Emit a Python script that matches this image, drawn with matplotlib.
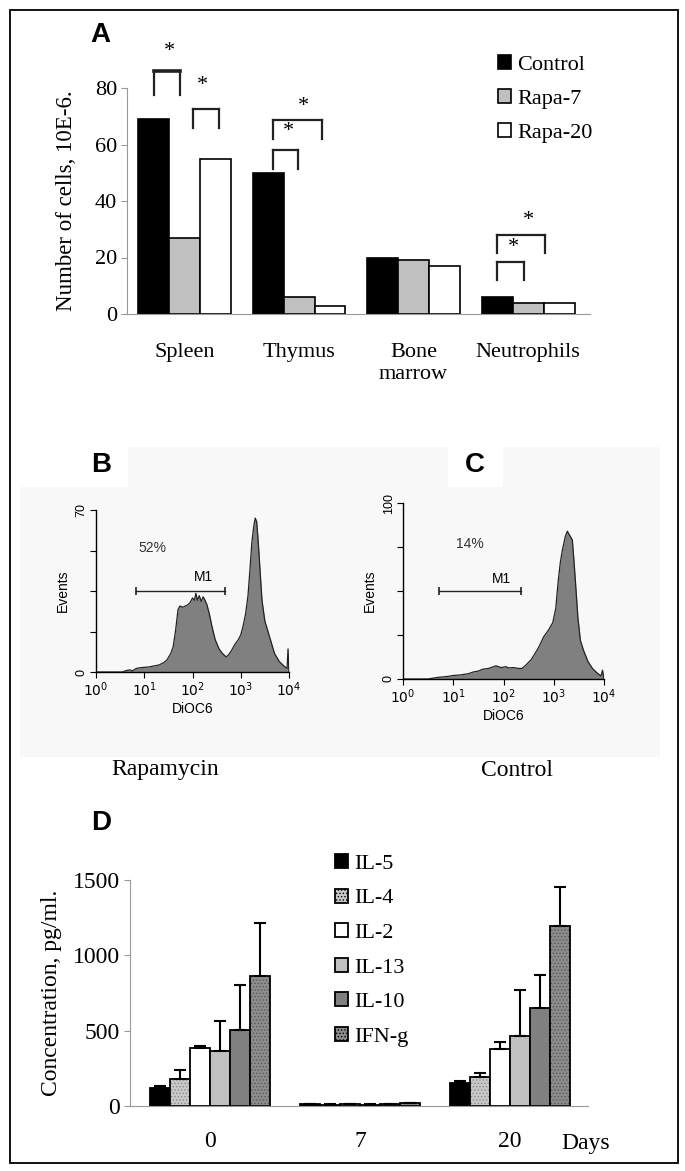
import numpy as np
import matplotlib
matplotlib.use("Agg")
from matplotlib import pyplot as plt
from matplotlib.patches import Rectangle
from matplotlib.ticker import LogLocator, NullFormatter

plt.rcParams['mathtext.fontset'] = 'custom'
plt.rcParams['mathtext.rm'] = 'Liberation Sans'
plt.rcParams['hatch.linewidth'] = 0.6

SERIF = 'Liberation Serif'
SANS = 'Liberation Sans'

# ---- panel A : cell numbers ----
organs = ["Spleen", "Thymus", "Bone\nmarrow", "Neutrophils"]
control = [69, 50, 20, 6]
rapa7 = [27, 6, 19, 4]
rapa20 = [55, 3, 17, 4]
a_ticks = [0, 20, 40, 60, 80]
# (organ, left, right, top, leg bottom, star x, star y, top line width)
brackets = [
    (0, -0.27, -0.04, 86, 77.5, -0.13, 93, 2.6),
    (0, 0.07, 0.30, 72.5, 66, 0.16, 81, 1.6),
    (1, -0.23, -0.01, 58, 51.5, -0.09, 64.5, 1.6),
    (1, -0.23, 0.20, 68.5, 62, 0.04, 73.5, 1.6),
    (3, -0.27, -0.035, 18.5, 12, -0.13, 23.5, 1.6),
    (3, -0.27, 0.15, 28, 21.5, 0.0, 33, 1.6),
]

# ---- panels B, C : DiOC6 histograms (log10 of channel, events) ----
b_logx = [0.0, 0.55, 0.62, 0.7, 0.76, 0.83, 0.9, 1.0, 1.1, 1.2, 1.3, 1.4, 1.47, 1.55,
          1.6, 1.65, 1.7, 1.74, 1.8, 1.85, 1.9, 1.95, 2.0, 2.04, 2.07, 2.1, 2.14,
          2.18, 2.22, 2.26, 2.3, 2.35, 2.4, 2.47, 2.55, 2.62, 2.7, 2.75, 2.8, 2.88,
          2.95, 3.0, 3.05, 3.1, 3.15, 3.19, 3.23, 3.27, 3.3, 3.33, 3.36, 3.4, 3.44,
          3.5, 3.6, 3.7, 3.8, 3.9, 3.96, 3.98, 4.0]
b_events = [0, 0, 0.6, 0.9, 0.5, 1.5, 1.8, 2.0, 2.2, 2.6, 3.0, 4.0, 5.2, 8,
            11, 18, 27, 28.5, 28, 28.5, 29, 30, 32, 31, 34, 31, 33,
            30.5, 32.5, 31, 29, 25, 20, 14, 10, 8, 6.5, 7.5, 9, 12,
            14, 16, 20, 25, 33, 44, 56, 63, 66.5, 65, 57, 44, 31,
            22, 15, 8, 4.5, 2.5, 1.5, 10, 0]
c_logx = [0.0, 0.5, 0.6, 0.72, 0.9, 1.0, 1.14, 1.3, 1.4, 1.5, 1.58, 1.7, 1.8, 1.85,
          1.95, 2.05, 2.1, 2.2, 2.3, 2.37, 2.45, 2.55, 2.63, 2.7, 2.8, 2.9, 2.98,
          3.04, 3.09, 3.13, 3.17, 3.23, 3.27, 3.31, 3.37, 3.4, 3.43, 3.48, 3.53,
          3.59, 3.68, 3.77, 3.86, 3.94, 3.97, 4.0]
c_events = [0, 0, 0.5, 1, 1.5, 2, 2.3, 3, 4, 4.5, 5.5, 6, 7, 7.5,
            6.5, 7, 6.3, 6.5, 6, 6, 8, 11, 14.6, 18, 24, 28, 32,
            40, 56, 66, 73, 81, 84, 82, 79, 68, 56, 35, 22,
            16.5, 10, 6, 3.5, 1.7, 5, 0]

# ---- panel D : cytokines ----
days = ["0", "7", "20"]
cytokines = ["IL-5", "IL-4", "IL-2", "IL-13", "IL-10", "IFN-g"]
il5 = [122, 12, 151]
il4 = [180, 8, 191]
il2 = [384, 12, 378]
il13 = [367, 8, 462]
il10 = [504, 12, 649]
ifng = [862, 18, 1198]
il5_err = [8, 2, 14]
il4_err = [60, 2, 25]
il2_err = [16, 2, 49]
il13_err = [200, 2, 305]
il10_err = [296, 3, 220]
ifng_err = [350, 4, 253]
d_ticks = [0, 500, 1000, 1500]

W, H = 685, 1171
fig = plt.figure(figsize=(W / 100, H / 100), dpi=100)


def px_axes(x0, y0, x1, y1):
    return fig.add_axes([x0 / W, 1 - y1 / H, (x1 - x0) / W, (y1 - y0) / H])


def ftext(x, y, s, **kw):
    fig.text(x / W, 1 - y / H, s, **kw)


# frame and light background behind the histograms
fig.add_artist(Rectangle((10 / W, 1 - 1163 / H), 668 / W, 1153 / H, transform=fig.transFigure,
                         fill=False, ec='black', lw=1.3, zorder=0))
fig.add_artist(Rectangle((20 / W, 1 - 757 / H), 640 / W, 310 / H, transform=fig.transFigure,
                         fc='#f8f8f8', ec='none', zorder=0))
fig.add_artist(Rectangle((20 / W, 1 - 487 / H), 108 / W, 40 / H, transform=fig.transFigure,
                         fc='white', ec='none', zorder=0))
fig.add_artist(Rectangle((448 / W, 1 - 487 / H), 55 / W, 40 / H, transform=fig.transFigure,
                         fc='white', ec='none', zorder=0))

# ---------------- A ----------------
axA = px_axes(127, 88, 590, 314)
axA.patch.set_alpha(0)
x = np.arange(len(organs))
w = 0.27
hA = []
for off, vals, col, lab in [(-w, control, 'black', 'Control'), (0, rapa7, '#c0c0c0', 'Rapa-7'),
                            (w, rapa20, 'white', 'Rapa-20')]:
    hA.append(axA.bar(x + off, vals, w, color=col, edgecolor='black', lw=1.2, label=lab))
axA.set_xlim(-0.502, 3.54)
axA.set_ylim(0, 80)
for s in ['top', 'right']:
    axA.spines[s].set_visible(False)
for s in ['left', 'bottom']:
    axA.spines[s].set_color('#999999')
    axA.spines[s].set_linewidth(0.8)
axA.set_yticks(a_ticks)
axA.set_yticklabels([str(t) for t in a_ticks], fontsize=16, family=SERIF)
axA.tick_params(axis='y', length=4, color='#999999', pad=3)
axA.set_xticks(x)
axA.set_xticklabels(organs, fontsize=16, family=SERIF, linespacing=1.2)
axA.tick_params(axis='x', length=0, pad=21)
axA.set_ylabel("Number of cells, 10E-6.", fontsize=16.5, family=SERIF)
axA.yaxis.set_label_coords(-0.108, 0.5)
for i, l, r, top, bot, sx, sy, tlw in brackets:
    axA.plot([i + l, i + l], [bot, top], color='#222222', lw=1.6, clip_on=False)
    axA.plot([i + r, i + r], [bot, top], color='#222222', lw=1.6, clip_on=False)
    axA.plot([i + l, i + r], [top, top], color='#222222', lw=tlw, clip_on=False,
             solid_capstyle='projecting')
    axA.text(i + sx, sy, '*', ha='center', va='center', fontsize=16, family=SERIF, clip_on=False)
axA.legend(handles=hA, loc='upper left', bbox_to_anchor=(498 / W, 1 - 55 / H),
           bbox_transform=fig.transFigure, frameon=False, prop={'family': SERIF, 'size': 16},
           handlelength=0.6, handleheight=0.6, handletextpad=0.25, labelspacing=0.64,
           borderpad=0, borderaxespad=0)
ftext(100, 35, "A", fontsize=20, fontweight='bold', family=SANS, ha='center', va='center')


# ---------------- B, C ----------------
def histogram(ax, logx, events, ymax, pct, pct_pos, m1_range, m1_label_pos):
    xs = 10 ** np.array(logx)
    ax.patch.set_alpha(0)
    ax.set_xscale('log')
    ax.fill_between(xs, events, color='#808080', lw=0)
    ax.plot(xs, events, color='#222222', lw=0.9)
    ax.set_xlim(1, 1e4)
    ax.set_ylim(0, ymax)
    for s in ['top', 'right']:
        ax.spines[s].set_visible(False)
    for s in ['left', 'bottom']:
        ax.spines[s].set_linewidth(1.0)
    ax.set_xticks([1, 10, 100, 1000, 10000])
    ax.set_xticklabels([r'$\mathregular{10^{%d}}$' % k for k in range(5)], fontsize=10)
    ax.xaxis.set_minor_locator(LogLocator(base=10, subs=range(2, 10)))
    ax.xaxis.set_minor_formatter(NullFormatter())
    ax.tick_params(axis='x', which='major', length=4, pad=2)
    ax.tick_params(axis='x', which='minor', length=2)
    yt = np.linspace(0, ymax, 5)
    ax.set_yticks(yt)
    ax.set_yticklabels(['0', '', '', '', str(ymax)], fontsize=9, family=SANS,
                       rotation=90, va='center')
    ax.tick_params(axis='y', length=4, pad=2)
    ax.set_xlabel("DiOC6", fontsize=10, family=SANS, labelpad=2)
    ax.set_ylabel("Events", fontsize=10, family=SANS, labelpad=4)
    ax.text(pct_pos[0], pct_pos[1], pct, fontsize=10, family=SANS, ha='center', va='center',
            color='#333333')
    ax.plot(m1_range, [ymax / 2] * 2, color='#222222', lw=1.0)
    ax.plot(m1_range, [ymax / 2] * 2, ls='none', marker='|', ms=6, mew=1.2, color='#222222')
    ax.text(m1_label_pos[0], m1_label_pos[1], "M1", fontsize=10, family=SANS,
            ha='center', va='center')


axB = px_axes(96, 510, 289, 672)
histogram(axB, b_logx, b_events, 70, "52%", (10 ** 1.16, 53.6), [10 ** 0.83, 10 ** 2.67],
          (10 ** 2.22, 41))
axC = px_axes(403, 503, 604, 679)
histogram(axC, c_logx, c_events, 100, "14%", (10 ** 1.33, 76.7), [10 ** 0.72, 10 ** 2.35],
          (10 ** 1.95, 57))
ftext(101, 465, "B", fontsize=20, fontweight='bold', family=SANS, ha='center', va='center')
ftext(475, 465, "C", fontsize=20, fontweight='bold', family=SANS, ha='center', va='center')
ftext(165, 770, "Rapamycin", fontsize=17, family=SERIF, ha='center', va='center')
ftext(517, 770, "Control", fontsize=17, family=SERIF, ha='center', va='center')

# ---------------- D ----------------
axD = px_axes(130, 880, 588, 1106)
axD.patch.set_alpha(0)
xd = np.arange(len(days))
wd = 0.1333
series = [il5, il4, il2, il13, il10, ifng]
errs = [il5_err, il4_err, il2_err, il13_err, il10_err, ifng_err]
faces = ['black', '#c8c8c8', 'white', '#c0c0c0', '#808080', '#8c8c8c']
hatches = [None, '.....', None, None, None, '.....']
hatch_cols = [None, '#8a8a8a', None, None, None, '#5a5a5a']
hD = []
for k, (vals, err, fc, hat, hc, lab) in enumerate(zip(series, errs, faces, hatches, hatch_cols, cytokines)):
    pos = xd + (k - 2.5) * wd
    if hat:
        axD.bar(pos, vals, wd, color=fc, edgecolor=hc, lw=0, hatch=hat)
    b = axD.bar(pos, vals, wd, color=fc if not hat else 'none', edgecolor='black', lw=1.3,
                label=lab)
    if hat:
        b.set_label('_nolegend_')
        proxy = Rectangle((0, 0), 1, 1, fc=fc, ec='black', lw=1.3, hatch=hat)
        hD.append(proxy)
    else:
        hD.append(b)
    axD.errorbar(pos, vals, yerr=[[0] * len(vals), err], fmt='none', ecolor='black',
                 elinewidth=1.5, capsize=4, capthick=1.5)
axD.set_xlim(-0.533, 2.52)
axD.set_ylim(0, 1500)
for s in ['top', 'right']:
    axD.spines[s].set_visible(False)
for s in ['left', 'bottom']:
    axD.spines[s].set_color('#999999')
    axD.spines[s].set_linewidth(0.8)
axD.set_yticks(d_ticks)
axD.set_yticklabels([str(t) for t in d_ticks], fontsize=17, family=SERIF)
axD.tick_params(axis='y', length=4, color='#999999', pad=3)
axD.set_xticks(xd)
axD.set_xticklabels(days, fontsize=17, family=SERIF)
axD.tick_params(axis='x', length=0, pad=18)
axD.set_ylabel("Concentration, pg/ml.", fontsize=17, family=SERIF)
axD.yaxis.set_label_coords(-0.148, 0.5)
axD.legend(handles=hD, labels=cytokines, loc='upper left', bbox_to_anchor=(335 / W, 1 - 854 / H),
           bbox_transform=fig.transFigure, frameon=False, prop={'family': SERIF, 'size': 16},
           handlelength=0.6, handleheight=0.6, handletextpad=0.25, labelspacing=0.66,
           borderpad=0, borderaxespad=0)
ftext(586, 1143, "Days", fontsize=17, family=SERIF, ha='center', va='center')
ftext(101, 823, "D", fontsize=20, fontweight='bold', family=SANS, ha='center', va='center')

fig.savefig("out.png", dpi=100)
